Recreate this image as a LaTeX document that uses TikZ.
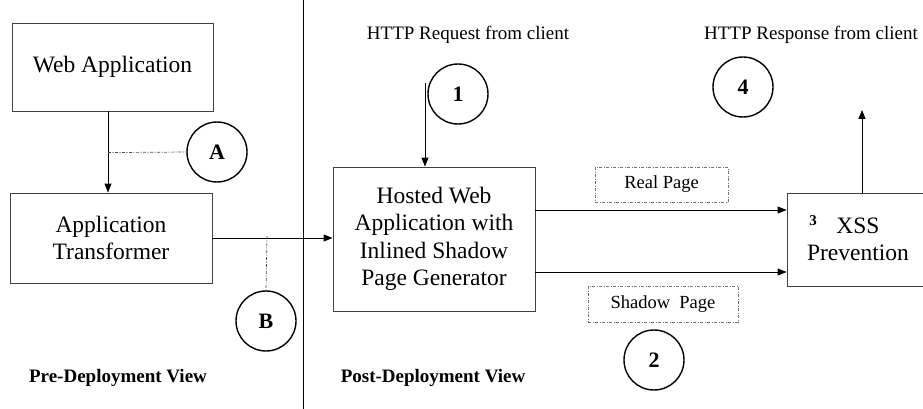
\documentclass[tikz,border=0pt]{standalone}
\usepackage{fontspec}
\setmainfont{Liberation Serif}
\usetikzlibrary{arrows.meta,positioning}
\tikzset{
    % Component box
    block/.style={draw=black!75,line width=0.9pt,align=center,inner sep=0pt,font=\fontsize{23.5}{27.3}\selectfont},
    % Step circle
    badge/.style={circle,draw,line width=1.4pt,minimum size=60pt,inner sep=0pt,font=\fontsize{22}{26}\selectfont\bfseries},
    % Dash-dot page tag
    pagetag/.style={draw=black!55,line width=0.6pt,dash pattern=on 3pt off 1.5pt on 1pt off 1.5pt,inner sep=0pt,font=\fontsize{18.5}{22}\selectfont},
    % Plain caption
    caption/.style={font=\fontsize{19}{23}\selectfont},
    % View title
    viewtitle/.style={font=\fontsize{19}{23}\selectfont\bfseries},
    % Flow arrow
    flow/.style={-{Triangle[length=9pt,width=7pt]},line width=0.9pt},
    % Pointer to a step circle
    link/.style={line width=0.7pt,black!70,dash pattern=on 3pt off 1.5pt on 1pt off 1.5pt}
}
\begin{document}
\begin{tikzpicture}[x=1pt,y=-1pt]
    \clip (0,0) rectangle (923,409);

    % Pre-deployment side
    \node[block,minimum width=201pt,minimum height=88pt] (webapp) at (112.5,67) {Web Application};
    \node[block,minimum width=202pt,minimum height=90pt] (transformer) at (111,238) {Application\\Transformer};
    \node[badge] (stepA) at (217,152) {A};
    \node[badge] (stepB) at (266,321) {B};
    \node[viewtitle] (preview) at (118,378) {Pre-Deployment View};

    % Divider
    \draw[line width=1pt] (303,0) -- (303,409);

    % Post-deployment side
    \node[block,minimum width=202pt,minimum height=144pt] (hosted) at (434,239) {Hosted Web\\Application with\\Inlined Shadow\\Page Generator};
    \node[block,minimum width=142pt,minimum height=93pt] (xss) at (858,239.5) {XSS\\Prevention};
    \node[font=\fontsize{15}{18}\selectfont\bfseries] (three) at (813,221) {3};
    \node[pagetag,minimum width=133pt,minimum height=35pt] (real) at (661.5,184.5) {Real Page};
    \node[pagetag,minimum width=150pt,minimum height=36pt] (shadow) at (663,304) {Shadow\ \ Page};
    \node[caption] (request) at (468,35) {HTTP Request from client};
    \node[caption] (response) at (811,35) {HTTP Response from client};
    \node[badge] (step1) at (458,94) {1};
    \node[badge] (step2) at (654,360) {2};
    \node[badge] (step4) at (743,87) {4};
    \node[viewtitle] (postview) at (433,378) {Post-Deployment View};

    % Connectors
    \coordinate (wadown) at (108,111);
    \draw[flow] (wadown) -- (wadown |- transformer.north) coordinate[pos=0.51] (aref);
    \draw[link] (aref) -- (stepA.west);
    \draw[flow] (transformer.east) -- (transformer.east -| hosted.west);
    \coordinate (bref) at (267,236);
    \draw[link] (bref) -- (stepB.north);
    \coordinate (reqin) at (425,83);
    \draw[flow] (reqin) -- (reqin |- hosted.north);
    \draw[flow] (hosted.east |- 0,210) -- (xss.west |- 0,210);
    \draw[flow] (hosted.east |- 0,272) -- (xss.west |- 0,272);
    \coordinate (respout) at (862,110);
    \draw[flow] (respout |- xss.north) -- (respout);
\end{tikzpicture}
\end{document}
